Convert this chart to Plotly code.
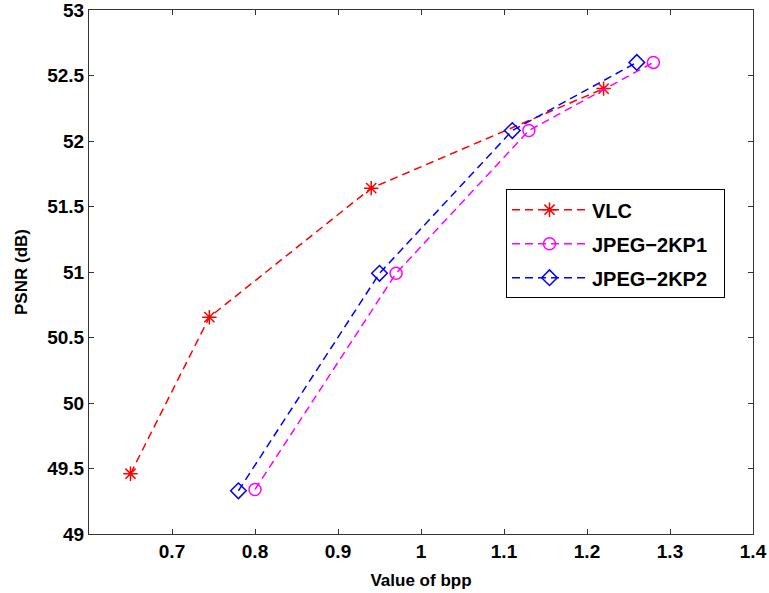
import plotly.graph_objects as go

vlc_bpp = [0.65, 0.745, 0.94, 1.22]
vlc_psnr = [49.46, 50.655, 51.64, 52.40]
p1_bpp = [0.80, 0.97, 1.13, 1.28]
p1_psnr = [49.34, 50.99, 52.08, 52.60]
p2_bpp = [0.78, 0.95, 1.11, 1.26]
p2_psnr = [49.33, 50.99, 52.08, 52.60]

x_ticks = [0.7, 0.8, 0.9, 1.0, 1.1, 1.2, 1.3, 1.4]
x_labels = ["0.7", "0.8", "0.9", "1", "1.1", "1.2", "1.3", "1.4"]
y_ticks = [49, 49.5, 50, 50.5, 51, 51.5, 52, 52.5, 53]
y_labels = ["49", "49.5", "50", "50.5", "51", "51.5", "52", "52.5", "53"]

FONT = "Arial, Liberation Sans, sans-serif"

fig = go.Figure()
series = [
    ("VLC", vlc_bpp, vlc_psnr, "#ff0000", "asterisk-open"),
    ("JPEG\u22122KP1", p1_bpp, p1_psnr, "#ff00ff", "circle-open"),
    ("JPEG\u22122KP2", p2_bpp, p2_psnr, "#0000ff", "diamond-open"),
]
for i, (name, xs, ys, col, sym) in enumerate(series):
    fig.add_trace(go.Scatter(
        x=xs, y=ys, name="<b>" + name + "</b>\u00a0\u00a0", mode="lines+markers",
        legendgroup="g%d" % i,
        line=dict(color=col, width=1.5, dash="8px,5px"),
        marker=dict(symbol=sym, size=12, color=col, line=dict(color=col, width=1.5)),
    ))

axis_common = dict(
    showgrid=False, zeroline=False, showline=True, linecolor="#333333", linewidth=1,
    mirror="ticks", ticks="inside", ticklen=5, tickcolor="#333333",
    tickfont=dict(family=FONT, size=19, color="black"),
    automargin=False, ticklabeloverflow="allow",
)
fig.update_xaxes(range=[0.6, 1.4], tickvals=x_ticks,
                 ticktext=["<b>" + t + "</b>" for t in x_labels],
                 title=dict(text="<b>Value of bpp</b>", font=dict(family=FONT, size=17, color="black")),
                 **axis_common)
fig.update_yaxes(range=[49, 53], tickvals=y_ticks,
                 ticktext=["<b>" + t + "</b>" for t in y_labels],
                 title=dict(text="<b>PSNR (dB)</b>", font=dict(family=FONT, size=17, color="black")),
                 **axis_common)

fig.update_layout(
    width=769, height=590,
    margin=dict(l=89, r=16, t=10, b=56),
    paper_bgcolor="white", plot_bgcolor="white",
    showlegend=True,
    legend=dict(x=0.628, y=0.658, xanchor="left", yanchor="top",
                bordercolor="black", borderwidth=1, bgcolor="white",
                font=dict(family=FONT, size=20, color="black"),
                itemwidth=75, tracegroupgap=5,
                traceorder="grouped"),
)

fig.write_html("out.html", config={"displayModeBar": False},
               post_script="document.body.style.margin='0';document.body.style.overflow='hidden';")
